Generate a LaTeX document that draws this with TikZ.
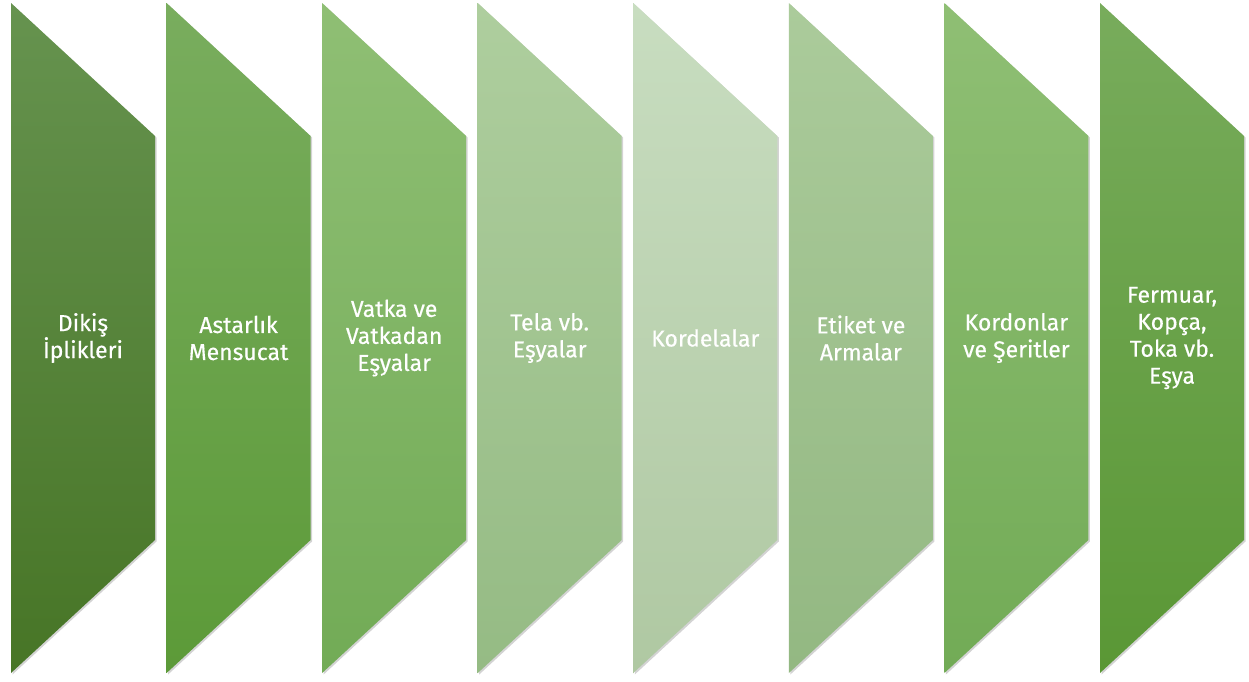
\documentclass[tikz,border=0pt]{standalone}
\usepackage{fontspec}
\setmainfont{Fira Sans}
\usetikzlibrary{shadows}

\definecolor{top1}{HTML}{66934F}
\definecolor{top2}{HTML}{79AD5E}
\definecolor{top3}{HTML}{8FBF74}
\definecolor{top4}{HTML}{AECE9E}
\definecolor{top5}{HTML}{C8DDC0}
\definecolor{top6}{HTML}{ABCB9B}
\definecolor{top7}{HTML}{8FBF74}
\definecolor{top8}{HTML}{78AC5C}
\definecolor{bot1}{HTML}{477526}
\definecolor{bot2}{HTML}{5C9A38}
\definecolor{bot3}{HTML}{72AB56}
\definecolor{bot4}{HTML}{95BB84}
\definecolor{bot5}{HTML}{AFC8A2}
\definecolor{bot6}{HTML}{93B882}
\definecolor{bot7}{HTML}{72AB56}
\definecolor{bot8}{HTML}{5A9735}

\tikzset{
  band/.style={drop shadow={shadow xshift=1.5pt,shadow yshift=-1.5pt,opacity=0.35}},
  bandlabel/.style={text=white,align=center,font=\fontsize{23}{27}\selectfont\addfontfeatures{FakeBold=0.4}}
}

\begin{document}
\begin{tikzpicture}[x=1pt,y=-1pt]

    \useasboundingbox (0,0) rectangle (1249,681);
    \pgfmathsetmacro{\pitch}{155.57}

    \foreach \i/\txt in {1/{Dikiş\\İplikleri},2/{Astarlık\\Mensucat},3/{Vatka ve\\Vatkadan\\Eşyalar},
        4/{Tela vb.\\Eşyalar},5/{Kordelalar},6/{Etiket ve\\Armalar},7/{Kordonlar\\ve Şeritler},
        8/{Fermuar,\\Kopça,\\Toka vb.\\Eşya}}{
        \pgfmathsetmacro{\xl}{11+(\i-1)*\pitch}
        \path[band,top color=top\i,bottom color=bot\i] (\xl,3) -- (\xl+144,136) -- (\xl+144,540) -- (\xl,673) -- cycle;
        \node[bandlabel] (band\i) at (\xl+72,338) {\txt};
    }
\end{tikzpicture}
\end{document}
